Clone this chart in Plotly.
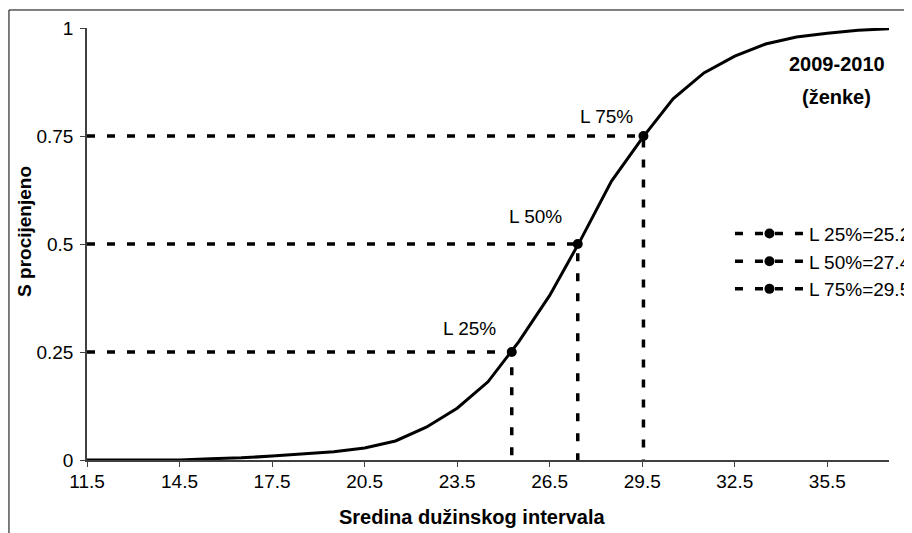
import plotly.graph_objects as go

# ---- data ----
x_mid = [11.5, 12.5, 13.5, 14.5, 15.5, 16.5, 17.5, 18.5, 19.5, 20.5, 21.5, 22.5, 23.5,
         24.5, 25.5, 26.5, 27.5, 28.5, 29.5, 30.5, 31.5, 32.5, 33.5, 34.5, 35.5, 36.5, 37.5]
s_est = [0.0, 0.0, 0.0, 0.0, 0.003, 0.005, 0.009, 0.014, 0.019, 0.028, 0.044, 0.076, 0.12,
         0.181, 0.274, 0.381, 0.509, 0.645, 0.745, 0.836, 0.896, 0.935, 0.963, 0.979, 0.988, 0.995, 0.998]

l_names = ["L 25%", "L 50%", "L 75%"]
l_vals = [25.27, 27.41, 29.54]
l_probs = [0.25, 0.5, 0.75]

x_ticks = [11.5, 14.5, 17.5, 20.5, 23.5, 26.5, 29.5, 32.5, 35.5]
y_ticks = [0, 0.25, 0.5, 0.75, 1]

title_lines = ["2009-2010", "(ženke)"]
x_title = "Sredina dužinskog intervala"
y_title = "S procijenjeno"

FONT = "Arial, 'Liberation Sans', sans-serif"
DASH = "8px,12px"

fig = go.Figure()

# curve
fig.add_trace(go.Scatter(x=x_mid, y=s_est, mode="lines",
                         line=dict(color="black", width=3), showlegend=False,
                         hoverinfo="skip"))

# quantile guide lines + points
for name, lv, pv in zip(l_names, l_vals, l_probs):
    fig.add_trace(go.Scatter(x=[x_mid[0], lv, lv], y=[pv, pv, 0], mode="lines",
                             line=dict(color="black", width=3.5, dash=DASH),
                             showlegend=False, legendgroup=name, hoverinfo="skip"))
    fig.add_trace(go.Scatter(x=[lv], y=[pv], mode="lines+markers",
                             line=dict(color="black", width=3.5, dash=DASH),
                             marker=dict(color="black", size=10),
                             name=f"{name}={lv:.2f}", legendgroup=name))

# labels above the points (pixel offsets are styling)
label_shift = [(-42, 24), (-42, 28), (-37, 20)]
for (name, lv, pv), (dx, dy) in zip(zip(l_names, l_vals, l_probs), label_shift):
    fig.add_annotation(x=lv, y=pv, text=name, showarrow=False, xshift=dx, yshift=dy,
                       xanchor="center", yanchor="middle",
                       font=dict(family=FONT, size=19, color="black"))

# chart title in the corner (two lines)
for txt, yy in zip(title_lines, [0.9167, 0.841]):
    fig.add_annotation(x=0.935, y=yy, xref="paper", yref="paper",
                       text="<b>" + txt + "</b>", showarrow=False,
                       xanchor="center", yanchor="middle",
                       font=dict(family=FONT, size=20, color="black"))

# axis titles
fig.add_annotation(x=0.481, y=-0.132, xref="paper", yref="paper",
                   text="<b>" + x_title + "</b>", showarrow=False,
                   xanchor="center", yanchor="middle",
                   font=dict(family=FONT, size=20, color="black"))
fig.add_annotation(x=-0.0773, y=0.528, xref="paper", yref="paper",
                   text="<b>" + y_title + "</b>", showarrow=False, textangle=-90,
                   xanchor="center", yanchor="middle",
                   font=dict(family=FONT, size=19, color="black"))

# chart-area frame (extends past the right/bottom edges like the reference crop)
fig.add_shape(type="rect", xref="paper", yref="paper",
              x0=-0.0973, y0=-0.3, x1=1.2, y1=1.0417,
              line=dict(color="black", width=1), layer="below")

fig.update_layout(
    width=912, height=533,
    margin=dict(l=79, r=31, t=20, b=81, autoexpand=False),
    paper_bgcolor="white", plot_bgcolor="white",
    font=dict(family=FONT, size=19, color="black"),
    legend=dict(x=0.8017, y=0.568, xanchor="left", yanchor="top",
                bgcolor="rgba(0,0,0,0)", font=dict(family=FONT, size=19),
                itemwidth=69, tracegroupgap=0),
    xaxis=dict(range=[11.5, 37.5], tickvals=x_ticks,
               ticktext=[f"{v:.1f}" for v in x_ticks],
               showgrid=False, zeroline=False, showline=True,
               linecolor="#404040", linewidth=1.5,
               ticks="outside", ticklen=5, tickcolor="#404040",
               ticklabelstandoff=-2,
               tickfont=dict(family=FONT, size=19)),
    yaxis=dict(range=[0, 1], tickvals=y_ticks,
               ticktext=[f"{v:g}" for v in y_ticks],
               showgrid=False, zeroline=False, showline=True,
               linecolor="#404040", linewidth=1.5,
               ticks="outside", ticklen=5, tickcolor="#404040",
               ticklabelstandoff=3,
               tickfont=dict(family=FONT, size=19)),
)

fig.write_html("out.html")
